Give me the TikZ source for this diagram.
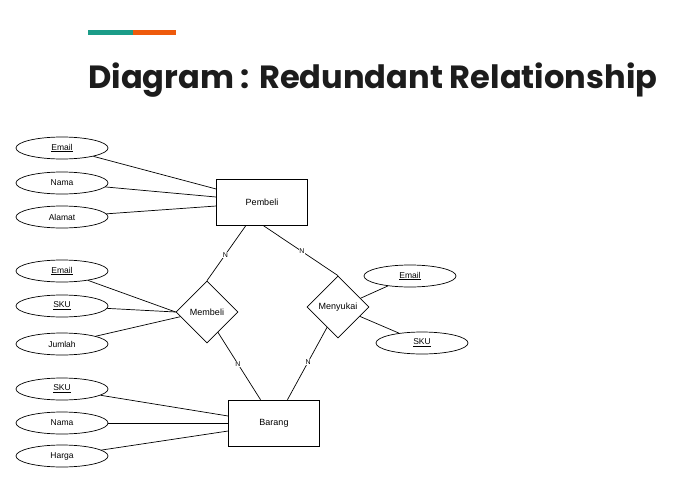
\documentclass[tikz,border=0pt]{standalone}
\usepackage{fontspec}
\setmainfont{Liberation Sans}
\newfontfamily\titlefont{Poppins}
\usepackage{graphicx}
\usetikzlibrary{calc}
\usetikzlibrary{shapes.geometric}
\definecolor{barteal}{HTML}{1B9C88}
\definecolor{barorange}{HTML}{EE5A0C}
\definecolor{titleink}{HTML}{1C1C1C}

\begin{document}
\begin{tikzpicture}[x=1pt,y=-1pt,
  attr/.style={ellipse,draw,line width=0.7pt,minimum width=92pt,minimum height=22pt,inner sep=0pt,font=\fontsize{8.5}{10}\selectfont},
  entity/.style={rectangle,draw,line width=0.7pt,minimum width=91pt,minimum height=46pt,inner sep=0pt,font=\fontsize{9}{11}\selectfont},
  rel/.style={diamond,draw,line width=0.7pt,shape aspect=1,minimum size=62pt,inner sep=0pt,font=\fontsize{9}{11}\selectfont},
  card/.style={fill=white,inner sep=0.6pt,font=\fontsize{7}{8}\selectfont}]
\useasboundingbox (0,0) rectangle (699,485);

% judul
\fill[barteal] (88,30) rectangle (133,35);
\fill[barorange] (133,30) rectangle (176,35);
\node[anchor=base west,inner sep=0pt,text=titleink] (judul) at (88,88)
  {\resizebox{569pt}{!}{\titlefont\bfseries Diagram : Redundant Relationship}};

% entitas dan relasi
\node[entity] (pembeli) at (262,202) {Pembeli};
\node[entity] (barang) at (274,423) {Barang};
\node[rel] (membeli) at (207,312) {Membeli};
\node[rel] (menyukai) at (338,307) {Menyukai};

% atribut
\node[attr] (pEmail) at (62,148) {\underline{Email}};
\node[attr] (pNama) at (62,183) {Nama};
\node[attr] (pAlamat) at (62,217) {Alamat};
\node[attr] (mEmail) at (62,271) {\underline{Email}};
\node[attr] (mSKU) at (62,306) {\underline{SKU}};
\node[attr] (mJumlah) at (62,344) {Jumlah};
\node[attr] (sEmail) at (410,276) {\underline{Email}};
\node[attr] (sSKU) at (422,343) {\underline{SKU}};
\node[attr] (bSKU) at (62,389) {\underline{SKU}};
\node[attr] (bNama) at (62,423) {Nama};
\node[attr] (bHarga) at (62,456) {Harga};

\begin{scope}[line width=0.7pt]
\draw (pEmail) -- ([yshift=13pt]pembeli.west);
\draw (pNama) -- ([yshift=5pt]pembeli.west);
\draw (pAlamat) -- ([yshift=-4pt]pembeli.west);

\draw (mEmail) -- (membeli.west);
\draw (mSKU) -- (membeli.west);
\draw (mJumlah) -- ($(membeli.west)!0.15!(membeli.south)$);

\draw ($(menyukai.north)!0.72!(menyukai.east)$) -- (sEmail);
\draw ($(menyukai.east)!0.3!(menyukai.south)$) -- (sSKU);

\draw (bSKU) -- ([yshift=7pt]barang.west);
\draw (bNama) -- (barang.west);
\draw (bHarga) -- ([yshift=-8pt]barang.west);

% kardinalitas
\draw ([xshift=-16pt]pembeli.south) -- node[card,pos=0.53] {N} (membeli.north);
\draw ([xshift=1pt]pembeli.south) -- node[card,pos=0.52] {N} (menyukai.north);
\draw ($(membeli.east)!0.65!(membeli.south)$) -- node[card,pos=0.47] {N} ([xshift=-13.5pt]barang.north);
\draw ($(menyukai.south)!0.35!(menyukai.west)$) -- node[card,pos=0.48] {N} ([xshift=13.5pt]barang.north);
\end{scope}
\end{tikzpicture}
\end{document}
